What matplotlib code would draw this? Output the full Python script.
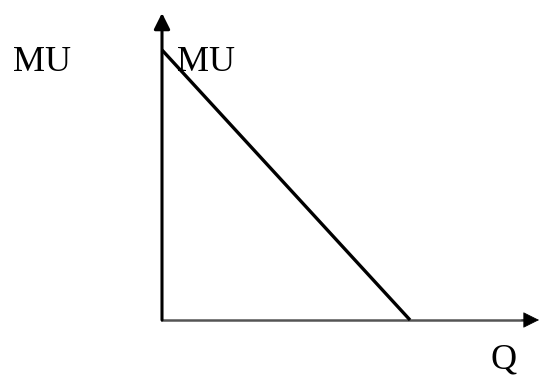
import matplotlib.pyplot as plt

# marginal utility falls with quantity
q = [0, 10]
mu = [10, 0]

plt.rcParams['font.family'] = ['Liberation Serif', 'DejaVu Serif']

fig = plt.figure(figsize=(5.39, 3.76), dpi=100)
# origin at pixel (162, 320), plot area up to the arrow tips
ax = fig.add_axes([162 / 539, 56 / 376, (539 - 162) / 539, (320 - 13) / 376])
ax.set_xlim(0, 15.2)
ax.set_ylim(0, 11.37)
ax.axis('off')

# x axis: grey shaft, black head
ax.plot([0, 14.8], [0, 0], color='#555555', lw=1.8, clip_on=False)
ax.annotate('', xy=(15.2, 0), xytext=(14.5, 0),
            arrowprops=dict(arrowstyle='-|>', color='black', lw=0.5,
                            mutation_scale=26, shrinkA=0, shrinkB=0),
            annotation_clip=False)
# y axis
ax.annotate('', xy=(0, 11.37), xytext=(0, 0),
            arrowprops=dict(arrowstyle='-|>', color='black', lw=2.2,
                            mutation_scale=24, shrinkA=0, shrinkB=0),
            annotation_clip=False)

ax.plot(q, mu, color='black', lw=2.4, solid_capstyle='butt', clip_on=False)

fig.text(13 / 539, 1 - 71 / 376, 'MU', fontsize=26, ha='left', va='baseline')
fig.text(177 / 539, 1 - 71 / 376, 'MU', fontsize=26, ha='left', va='baseline')
fig.text(490 / 539, 1 - 368 / 376, 'Q', fontsize=26, ha='left', va='baseline')

fig.savefig('out.png', dpi=100)
